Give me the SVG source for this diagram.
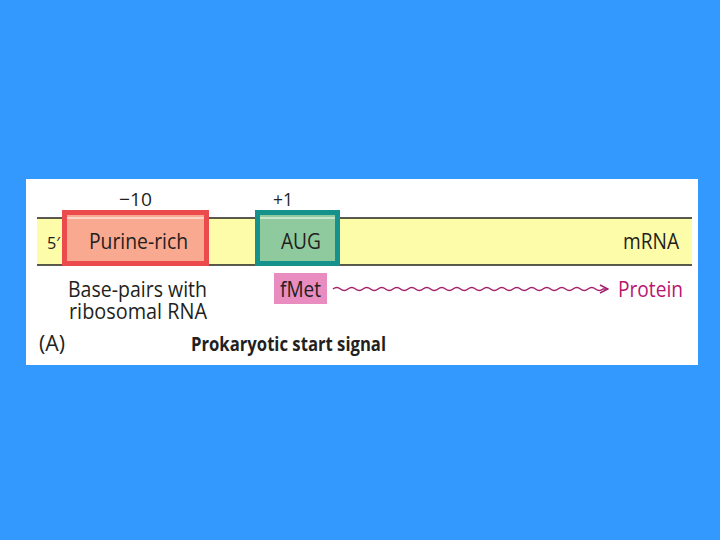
<svg xmlns="http://www.w3.org/2000/svg" width="720" height="540" viewBox="0 0 720 540">
<style>
text{font-family:"Open Sans","Noto Sans","Liberation Sans",sans-serif;fill:#231f20}
.lbl{font-size:21px}
.bold{font-weight:bold;font-size:20px}
</style>
<defs>
<marker id="arr" viewBox="0 0 10 10" refX="9" refY="5" markerWidth="10" markerHeight="10" markerUnits="userSpaceOnUse" orient="auto">
<path d="M1,1 L9,5 L1,9" fill="none" stroke="#a3206c" stroke-width="1.5"/>
</marker>
</defs>
<rect width="720" height="540" fill="#3399ff"/>
<rect x="26" y="179" width="672" height="186" fill="#ffffff"/>
<g id="mrna">
<rect x="37" y="218" width="655" height="47" fill="#fdfca8"/>
<line x1="37" y1="218" x2="692" y2="218" stroke="#222" stroke-width="1.4"/>
<line x1="37" y1="265" x2="692" y2="265" stroke="#222" stroke-width="1.4"/>
<text x="47" y="249" font-size="16" textLength="13" lengthAdjust="spacingAndGlyphs">5′</text>
<text x="623" y="249" class="lbl" textLength="56" lengthAdjust="spacingAndGlyphs">mRNA</text>
</g>
<g id="purine">
<rect x="64.5" y="212.5" width="142" height="51" fill="#f9a990" stroke="#ec4b4e" stroke-width="5"/>
<line x1="67" y1="218" x2="204" y2="218" stroke="#fff" stroke-width="1"/>
<text x="89" y="249" class="lbl" textLength="99" lengthAdjust="spacingAndGlyphs">Purine-rich</text>
<text x="119" y="206" font-size="19" textLength="33" lengthAdjust="spacingAndGlyphs">−10</text>
</g>
<g id="aug">
<rect x="257.5" y="212.5" width="80" height="51" fill="#8fca9f" stroke="#16928c" stroke-width="5"/>
<line x1="260" y1="218" x2="335" y2="218" stroke="#fff" stroke-width="1"/>
<text x="281" y="249" class="lbl" textLength="40" lengthAdjust="spacingAndGlyphs">AUG</text>
<text x="273" y="206" font-size="19" textLength="20" lengthAdjust="spacingAndGlyphs">+1</text>
</g>
<g id="basepairs">
<text x="68" y="297" class="lbl" textLength="139" lengthAdjust="spacingAndGlyphs">Base-pairs with</text>
<text x="69" y="319" class="lbl" textLength="138" lengthAdjust="spacingAndGlyphs">ribosomal RNA</text>
</g>
<g id="fmet">
<rect x="274" y="273" width="53" height="31" fill="#e98cbf"/>
<text x="280" y="297" class="lbl" textLength="41" lengthAdjust="spacingAndGlyphs">fMet</text>
</g>
<g id="connectors">
<path d="M333,289 q3.75,-3 7.5,0 t7.5,0 t7.5,0 t7.5,0 t7.5,0 t7.5,0 t7.5,0 t7.5,0 t7.5,0 t7.5,0 t7.5,0 t7.5,0 t7.5,0 t7.5,0 t7.5,0 t7.5,0 t7.5,0 t7.5,0 t7.5,0 t7.5,0 t7.5,0 t7.5,0 t7.5,0 t7.5,0 t7.5,0 t7.5,0 t7.5,0 t7.5,0 t7.5,0 t7.5,0 t7.5,0 t7.5,0 t7.5,0 t7.5,0 t7.5,0 t7.5,0 L608,289" fill="none" stroke="#a3206c" stroke-width="1.5" marker-end="url(#arr)"/>
</g>
<g id="protein">
<text x="618" y="297" class="lbl" style="fill:#b8156f" textLength="65" lengthAdjust="spacingAndGlyphs">Protein</text>
</g>
<text x="39" y="351" class="lbl" textLength="26" lengthAdjust="spacingAndGlyphs">(A)</text>
<text x="191" y="351" class="bold" textLength="195" lengthAdjust="spacingAndGlyphs">Prokaryotic start signal</text>
</svg>
